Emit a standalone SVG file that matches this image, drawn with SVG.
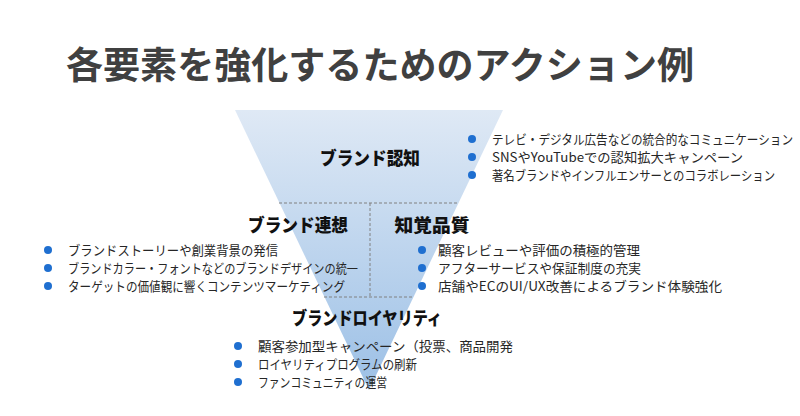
<svg xmlns="http://www.w3.org/2000/svg" width="800" height="416" viewBox="0 0 800 416">
<defs>
<linearGradient id="g" x1="0" y1="110" x2="0" y2="390" gradientUnits="userSpaceOnUse">
<stop offset="0" stop-color="#dfe9f5"/>
<stop offset="1" stop-color="#9cc0e6"/>
</linearGradient>
<style>
.t{font-family:"Noto Sans CJK JP","Liberation Sans",sans-serif;}
.title{font-size:37px;font-weight:bold;fill:#404040;}
.h{font-size:18px;font-weight:900;fill:#111111;text-anchor:middle;}
.b{font-size:13px;fill:#262626;}
.dot{fill:#1f6fd0;}
.dash{stroke:#808080;stroke-width:1;stroke-dasharray:3 2;fill:none;}
</style>
</defs>
<rect width="800" height="416" fill="#ffffff"/>
<text class="t title" x="66" y="79" textLength="628" lengthAdjust="spacingAndGlyphs">各要素を強化するためのアクション例</text>
<g id="funnel">
<polygon points="235,110 503,110 369,390" fill="url(#g)"/>
</g>
<g id="connectors">
<line class="dash" x1="279" y1="203" x2="459" y2="203"/>
<line class="dash" x1="370" y1="203" x2="370" y2="297"/>
<line class="dash" x1="324" y1="297" x2="414" y2="297"/>
</g>
<g id="awareness">
<text class="t h" x="370" y="165" textLength="100" lengthAdjust="spacingAndGlyphs">ブランド認知</text>
<circle class="dot" cx="472" cy="139" r="4"/>
<circle class="dot" cx="472" cy="157" r="4"/>
<circle class="dot" cx="472" cy="175" r="4"/>
<text class="t b" transform="translate(492,144) scale(0.8905,1)" x="0" y="0" textLength="338" lengthAdjust="spacingAndGlyphs">テレビ・デジタル広告などの統合的なコミュニケーション</text>
<text class="t b" x="492" y="162" textLength="251" lengthAdjust="spacingAndGlyphs">SNSやYouTubeでの認知拡大キャンペーン</text>
<text class="t b" transform="translate(492,180) scale(0.8708,1)" x="0" y="0" textLength="325" lengthAdjust="spacingAndGlyphs">著名ブランドやインフルエンサーとのコラボレーション</text>
</g>
<g id="association">
<text class="t h" x="298" y="232" textLength="100" lengthAdjust="spacingAndGlyphs">ブランド連想</text>
<circle class="dot" cx="48" cy="250" r="4"/>
<circle class="dot" cx="48" cy="268" r="4"/>
<circle class="dot" cx="48" cy="286" r="4"/>
<text class="t b" x="68" y="255" textLength="210" lengthAdjust="spacingAndGlyphs">ブランドストーリーや創業背景の発信</text>
<text class="t b" x="68" y="273" textLength="290" lengthAdjust="spacingAndGlyphs">ブランドカラー・フォントなどのブランドデザインの統一</text>
<text class="t b" x="68" y="291" textLength="277" lengthAdjust="spacingAndGlyphs">ターゲットの価値観に響くコンテンツマーケティング</text>
</g>
<g id="quality">
<text class="t h" x="432" y="232" textLength="75" lengthAdjust="spacingAndGlyphs">知覚品質</text>
<circle class="dot" cx="422" cy="250" r="4"/>
<circle class="dot" cx="422" cy="268" r="4"/>
<circle class="dot" cx="422" cy="286" r="4"/>
<text class="t b" x="438" y="255" textLength="202" lengthAdjust="spacingAndGlyphs">顧客レビューや評価の積極的管理</text>
<text class="t b" x="438" y="273" textLength="203" lengthAdjust="spacingAndGlyphs">アフターサービスや保証制度の充実</text>
<text class="t b" x="438" y="291" textLength="284" lengthAdjust="spacingAndGlyphs">店舗やECのUI/UX改善によるブランド体験強化</text>
</g>
<g id="loyalty">
<text class="t h" x="367" y="325" textLength="150" lengthAdjust="spacingAndGlyphs">ブランドロイヤリティ</text>
<circle class="dot" cx="238" cy="346" r="4"/>
<circle class="dot" cx="238" cy="364" r="4"/>
<circle class="dot" cx="238" cy="382" r="4"/>
<text class="t b" x="258" y="351" textLength="255" lengthAdjust="spacingAndGlyphs">顧客参加型キャンペーン（投票、商品開発</text>
<text class="t b" x="258" y="369" textLength="159" lengthAdjust="spacingAndGlyphs">ロイヤリティプログラムの刷新</text>
<text class="t b" x="258" y="387" textLength="129" lengthAdjust="spacingAndGlyphs">ファンコミュニティの運営</text>
</g>
</svg>
